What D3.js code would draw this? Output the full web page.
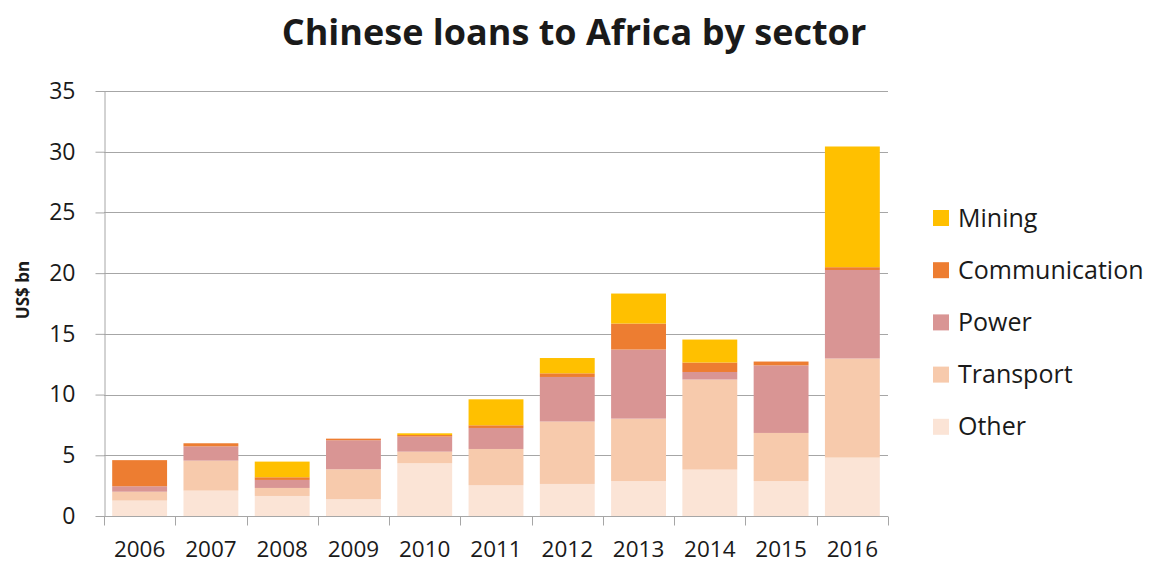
<!DOCTYPE html>
<html>
<head>
<meta charset="utf-8">
<script src="https://cdn.jsdelivr.net/npm/d3@7"></script>
<style>
  html, body { margin: 0; padding: 0; background: #ffffff; }
  svg { display: block; }
  text { font-family: "Open Sans", "DejaVu Sans", sans-serif; fill: #1a1a1a; }
</style>
</head>
<body>
<svg id="chart" width="1154" height="563"></svg>
<script>
// Loan amounts in US$ bn per year, one array per sector
const years = ["2006", "2007", "2008", "2009", "2010", "2011", "2012", "2013", "2014", "2015", "2016"];
const other         = [1.27, 2.09, 1.65, 1.38, 4.34, 2.53, 2.64, 2.88, 3.82, 2.88, 4.81];
const transport     = [0.73, 2.47, 0.66, 2.47, 0.96, 2.99, 5.14, 5.14, 7.42, 3.96, 8.16];
const power         = [0.45, 1.18, 0.66, 2.39, 1.24, 1.73, 3.67, 5.69, 0.62, 5.57, 7.29];
const communication = [2.15, 0.25, 0.22, 0.13, 0.13, 0.22, 0.30, 2.14, 0.78, 0.31, 0.23];
const mining        = [0.00, 0.00, 1.29, 0.00, 0.14, 2.14, 1.26, 2.47, 1.89, 0.00, 9.94];

// Stack order from the bottom up
const sectors = ["Other", "Transport", "Power", "Communication", "Mining"];
const sectorValues = { Other: other, Transport: transport, Power: power, Communication: communication, Mining: mining };
const sectorColors = { Other: "#fbe4d6", Transport: "#f7caac", Power: "#d99594", Communication: "#ed7d31", Mining: "#ffc000" };
// Legend reads from the top of the stack down
const legendOrder = ["Mining", "Communication", "Power", "Transport", "Other"];
const yTicks = [0, 5, 10, 15, 20, 25, 30, 35];

const rows = years.map((y, i) => {
  const r = { year: y };
  sectors.forEach(s => { r[s] = sectorValues[s][i]; });
  return r;
});

const svg = d3.select("#chart");
const plot = { left: 104, right: 888, top: 91, bottom: 516 };

const x = d3.scaleBand().domain(years).range([plot.left, plot.right]).paddingInner(0.23).paddingOuter(0.115);
const y = d3.scaleLinear().domain([0, 35]).range([plot.bottom, plot.top]);

const gridColor = "#a6a6a6";

// Horizontal gridlines
svg.append("g")
  .selectAll("line")
  .data(yTicks.filter(t => t > 0))
  .join("line")
  .attr("x1", plot.left).attr("x2", plot.right)
  .attr("y1", d => Math.round(y(d)) + 0.5).attr("y2", d => Math.round(y(d)) + 0.5)
  .attr("stroke", gridColor).attr("stroke-width", 1);

// Stacked bars
const stacked = d3.stack().keys(sectors)(rows);
svg.append("g")
  .selectAll("g")
  .data(stacked)
  .join("g")
  .attr("fill", d => sectorColors[d.key])
  .selectAll("rect")
  .data(d => d)
  .join("rect")
  .attr("x", d => x(d.data.year))
  .attr("width", x.bandwidth())
  .attr("y", d => y(d[1]))
  .attr("height", d => Math.max(0, y(d[0]) - y(d[1])));

// Y axis
const yAxis = svg.append("g")
  .attr("transform", `translate(${plot.left + 0.5},0)`)
  .call(d3.axisLeft(y).tickValues(yTicks).tickSize(9).tickSizeOuter(0).tickPadding(20));
yAxis.select(".domain").attr("stroke", gridColor);
yAxis.selectAll(".tick line").attr("stroke", gridColor);
yAxis.selectAll(".tick text")
  .attr("font-size", 23)
  .attr("font-family", "'Open Sans', sans-serif")
  .attr("fill", "#1a1a1a");

// X axis with ticks on the category boundaries
const xAxisG = svg.append("g").attr("transform", `translate(0,${plot.bottom + 0.5})`);
xAxisG.append("line")
  .attr("x1", plot.left).attr("x2", plot.right)
  .attr("stroke", gridColor);
const step = x.step();
const boundaries = d3.range(years.length + 1).map(i => plot.left + i * step);
xAxisG.selectAll("line.tick")
  .data(boundaries)
  .join("line")
  .attr("class", "tick")
  .attr("x1", d => Math.round(d) + 0.5).attr("x2", d => Math.round(d) + 0.5)
  .attr("y1", 0).attr("y2", 9)
  .attr("stroke", gridColor);
xAxisG.selectAll("text")
  .data(years)
  .join("text")
  .attr("x", d => x(d) + x.bandwidth() / 2)
  .attr("y", 40)
  .attr("text-anchor", "middle")
  .attr("font-size", 22.5)
  .text(d => d);

// Y axis title
svg.append("text")
  .attr("transform", "translate(29,290) rotate(-90)")
  .attr("text-anchor", "middle")
  .attr("font-size", 17)
  .attr("font-weight", "bold")
  .text("US$ bn");

// Chart title
svg.append("text")
  .attr("x", 574)
  .attr("y", 45)
  .attr("text-anchor", "middle")
  .attr("font-size", 36)
  .attr("font-weight", "bold")
  .attr("fill", "#000")
  .text("Chinese loans to Africa by sector");

// Legend
const legend = svg.append("g");
const legendItems = legend.selectAll("g")
  .data(legendOrder)
  .join("g")
  .attr("transform", (d, i) => `translate(933,${210 + i * 52.2})`);
legendItems.append("rect")
  .attr("width", 16).attr("height", 16)
  .attr("fill", d => sectorColors[d]);
legendItems.append("text")
  .attr("x", 25)
  .attr("y", 16.5)
  .attr("font-size", 25)
  .text(d => d);
</script>
</body>
</html>
